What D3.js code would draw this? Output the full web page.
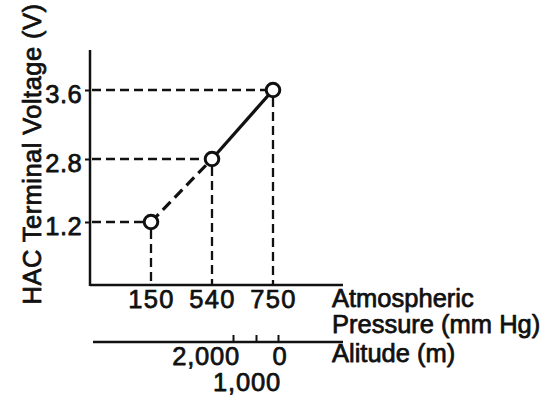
<!DOCTYPE html>
<html>
<head>
<meta charset="utf-8">
<script src="https://cdn.jsdelivr.net/npm/d3@7"></script>
<style>
  html, body { margin: 0; padding: 0; background: #fff; }
  svg text {
    font-family: "Liberation Sans", Arial, Helvetica, sans-serif;
    fill: #111; stroke: #111; stroke-width: 0.75px; stroke-linejoin: round;
  }
</style>
</head>
<body>
<svg id="chart" width="543" height="396"></svg>
<script>
// Measured points: atmospheric pressure (mm Hg) vs HAC terminal voltage (V)
const pressure = [150, 540, 750];
const voltage = [1.2, 2.8, 3.6];
const voltageTicks = [1.2, 2.8, 3.6];
const pressureTicks = [150, 540, 750];
// Secondary scale: altitude (m) matching the pressures
const altitudeTicks = [2000, 1000, 0];
const altitudeLabels = ["2,000", "1,000", "0"];

const svg = d3.select("#chart");
const ink = "#111";
const fontSize = 25.5;

// Frame geometry
const axisX = 90, axisTop = 50, axisY = 285, axisRight = 343;
const altY = 342, altLeft = 93;

// Schematic (piecewise) scales
const x = d3.scaleLinear().domain(pressure).range([151, 212, 273]);
const y = d3.scaleLinear().domain(voltage).range([222, 159, 90]);
const alt = d3.scaleLinear().domain(altitudeTicks).range([233, 256, 278]);

const pts = pressure.map((p, i) => ({ p, v: voltage[i] }));

// Axes lines
svg.append("line")
  .attr("x1", axisX).attr("x2", axisX).attr("y1", axisTop).attr("y2", axisY + 1)
  .attr("stroke", ink).attr("stroke-width", 2.5);
svg.append("line")
  .attr("x1", axisX).attr("x2", axisRight).attr("y1", axisY).attr("y2", axisY)
  .attr("stroke", ink).attr("stroke-width", 2.5);

// Y axis ticks and labels
const yAxis = d3.axisLeft(y).tickValues(voltageTicks).tickSize(5).tickPadding(3)
  .tickFormat(d3.format(".1f"));
const gy = svg.append("g").attr("transform", `translate(${axisX},0)`).call(yAxis);
gy.select(".domain").remove();
gy.selectAll(".tick line").attr("stroke", ink).attr("stroke-width", 2);
gy.selectAll(".tick text")
  .attr("font-size", fontSize).attr("fill", ink)
  .attr("font-family", "Liberation Sans, Arial, sans-serif")
  .attr("dy", "0.5em").attr("letter-spacing", 0.4);

// Pressure axis labels
const xAxis = d3.axisBottom(x).tickValues(pressureTicks).tickSize(0).tickPadding(23)
  .tickFormat(d3.format("d"));
const gx = svg.append("g").attr("transform", `translate(0,${axisY})`).call(xAxis);
gx.select(".domain").remove();
gx.selectAll(".tick text")
  .attr("font-size", fontSize).attr("fill", ink)
  .attr("font-family", "Liberation Sans, Arial, sans-serif")
  .attr("dy", 0).attr("letter-spacing", 1.4);

// Guide lines from each point to both axes
const guides = svg.append("g")
  .attr("stroke", ink).attr("stroke-width", 2.3).attr("stroke-dasharray", "9,5").attr("fill", "none");
guides.selectAll(".h").data(pts).join("line")
  .attr("x1", axisX + 2).attr("x2", d => x(d.p) - 7)
  .attr("y1", d => y(d.v)).attr("y2", d => y(d.v));
guides.selectAll(".v").data(pts).join("line")
  .attr("x1", d => x(d.p)).attr("x2", d => x(d.p))
  .attr("y1", d => y(d.v) + 8).attr("y2", axisY);

// Curve: dashed between first two points, solid afterwards
const line = d3.line().x(d => x(d.p)).y(d => y(d.v));
svg.append("path").datum(pts.slice(0, 2)).attr("d", line)
  .attr("fill", "none").attr("stroke", ink).attr("stroke-width", 3.2)
  .attr("stroke-dasharray", "11,6");
svg.append("path").datum(pts.slice(1)).attr("d", line)
  .attr("fill", "none").attr("stroke", ink).attr("stroke-width", 3.2);

// Point markers
svg.selectAll("circle.pt").data(pts).join("circle")
  .attr("class", "pt")
  .attr("cx", d => x(d.p)).attr("cy", d => y(d.v)).attr("r", 6.8)
  .attr("fill", "#fff").attr("stroke", ink).attr("stroke-width", 3);

// Y axis title
svg.append("text")
  .attr("transform", "translate(41,154) rotate(-90)")
  .attr("text-anchor", "middle").attr("font-size", fontSize)
  .attr("letter-spacing", 0.45)
  .text("HAC Terminal Voltage (V)");

// Pressure axis title
const pt = svg.append("text").attr("x", 332).attr("font-size", fontSize);
pt.append("tspan").attr("x", 332).attr("y", 307).text("Atmospheric");
pt.append("tspan").attr("x", 332).attr("y", 333).text("Pressure (mm Hg)");

// Altitude axis
svg.append("line")
  .attr("x1", altLeft).attr("x2", axisRight).attr("y1", altY).attr("y2", altY)
  .attr("stroke", ink).attr("stroke-width", 2.5);
const altAxis = d3.axisTop(alt).tickValues(altitudeTicks).tickSize(7).tickFormat("");
const ga = svg.append("g").attr("transform", `translate(0,${altY})`).call(altAxis);
ga.select(".domain").remove();
ga.selectAll(".tick line").attr("stroke", ink).attr("stroke-width", 2);

// Altitude labels, staggered so they do not collide
const altLabelPlace = [
  { anchor: "end", dx: 7, y: 365 },
  { anchor: "middle", dx: -9, y: 391 },
  { anchor: "middle", dx: 2, y: 365 }
];
svg.selectAll("text.alt").data(altitudeTicks).join("text")
  .attr("class", "alt")
  .attr("x", (d, i) => alt(d) + altLabelPlace[i].dx)
  .attr("y", (d, i) => altLabelPlace[i].y)
  .attr("text-anchor", (d, i) => altLabelPlace[i].anchor)
  .attr("font-size", fontSize).attr("letter-spacing", 0.8)
  .text((d, i) => altitudeLabels[i]);

svg.append("text").attr("x", 332).attr("y", 362).attr("font-size", fontSize)
  .text("Alitude (m)");
</script>
</body>
</html>
